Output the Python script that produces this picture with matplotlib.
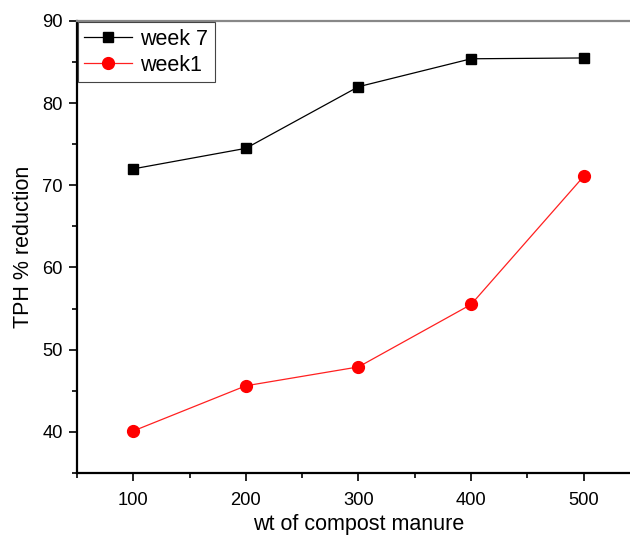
import matplotlib.pyplot as plt
from matplotlib.ticker import MultipleLocator

plt.rcParams['font.family'] = ['Liberation Sans', 'DejaVu Sans']

compost = [100, 200, 300, 400, 500]
week7 = [72.0, 74.5, 82.0, 85.4, 85.5]
week1 = [40.1, 45.6, 47.9, 55.5, 71.1]

fig = plt.figure(figsize=(6.3, 5.38), dpi=100)
ax = fig.add_axes([0.122, 0.121, 0.894, 0.840])

ax.plot(compost, week7, c='black', lw=0.9, marker='s', ms=7, label='week 7')
ax.plot(compost, week1, c='#ff2020', lw=0.9, marker='o', ms=8.5,
        mfc='red', mec='red', label='week1')

ax.set_xlim(50, 550)
ax.set_ylim(35, 90)
ax.set_xticks([100, 200, 300, 400, 500])
ax.set_yticks([40, 50, 60, 70, 80, 90])
ax.xaxis.set_minor_locator(MultipleLocator(50))
ax.yaxis.set_minor_locator(MultipleLocator(5))
ax.tick_params(which='major', direction='out', length=6, width=1.2, labelsize=13.2)
ax.tick_params(which='minor', direction='out', length=3.5, width=1.2)
ax.tick_params(axis='x', pad=8)
ax.tick_params(axis='y', pad=4)

for s in ['left', 'bottom']:
    ax.spines[s].set_linewidth(1.6)
ax.spines['top'].set_color('#888888')
ax.spines['top'].set_linewidth(1.6)
ax.spines['right'].set_visible(False)

ax.set_xlabel('wt of compost manure', fontsize=15.5, labelpad=3)
ax.set_ylabel('TPH % reduction', fontsize=15.5, labelpad=6)

leg = ax.legend(loc='upper left', fontsize=15.5, fancybox=False, framealpha=1,
                borderaxespad=0.05, borderpad=0.3, handlelength=2.2,
                handletextpad=0.4, labelspacing=0.25)
leg.get_frame().set_edgecolor('#444444')
leg.get_frame().set_linewidth(0.8)

fig.savefig('out.png', dpi=100)
